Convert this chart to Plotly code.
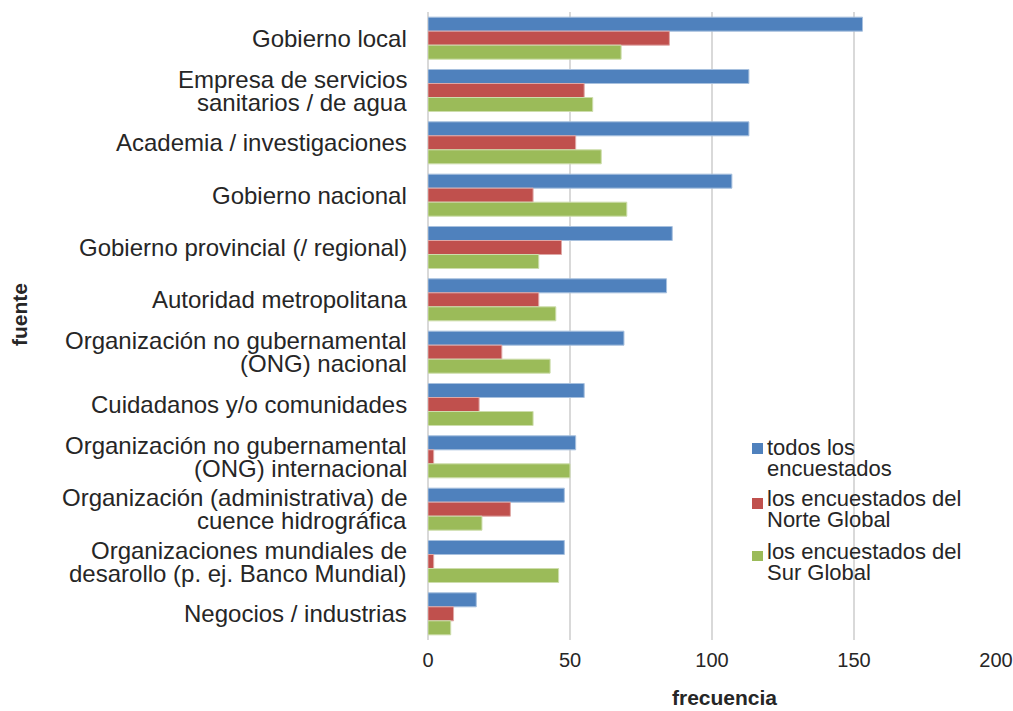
import plotly.graph_objects as go

categories = [
    "Gobierno local",
    "Empresa de servicios<br>sanitarios / de agua",
    "Academia / investigaciones",
    "Gobierno nacional",
    "Gobierno provincial (/ regional)",
    "Autoridad metropolitana",
    "Organización no gubernamental<br>(ONG) nacional",
    "Cuidadanos y/o comunidades",
    "Organización no gubernamental<br>(ONG) internacional",
    "Organización (administrativa) de<br>cuence hidrográfica",
    "Organizaciones mundiales de<br>desarollo (p. ej. Banco Mundial)",
    "Negocios / industrias",
]
todos = [153, 113, 113, 107, 86, 84, 69, 55, 52, 48, 48, 17]
norte = [85, 55, 52, 37, 47, 39, 26, 18, 2, 29, 2, 9]
sur = [68, 58, 61, 70, 39, 45, 43, 37, 50, 19, 46, 8]
x_ticks = [0, 50, 100, 150, 200]

series_names = ["todos los<br>encuestados", "los encuestados del<br>Norte Global", "los encuestados del<br>Sur Global"]
colors = ["#4F81BD", "#C0504D", "#9BBB59"]
edge = ["#A7C0DE", "#DFA8A6", "#CDDDAC"]

W, H = 1013, 711
L, R, T, B = 428, 17, 12, 71
PW, PH = W - L - R, H - T - B
TXT = "#262626"
FONT = "Liberation Sans, Arial, Helvetica, sans-serif"


def px_x(px):
    return (px - L) / PW


def px_y(py):
    return (H - B - py) / PH


fig = go.Figure()
for name, vals, c, e in zip(series_names, [todos, norte, sur], colors, edge):
    fig.add_trace(go.Bar(
        y=categories, x=vals, orientation="h", name=name,
        marker=dict(color=c, line=dict(color=e, width=1)),
        showlegend=False,
    ))

annotations = []
# category labels (one annotation per text line)
for cat in categories:
    lines = cat.split("<br>")
    n = len(lines)
    for i, ln in enumerate(lines):
        annotations.append(dict(
            text=ln, xref="paper", yref="y", x=0, y=cat,
            xanchor="right", yanchor="middle", xshift=-19,
            yshift=(n - 1) / 2 * 23 - i * 23, showarrow=False,
            font=dict(size=24, color=TXT, family=FONT),
        ))

# custom legend
leg_sq = [(443, 454), (498, 509), (551, 561)]
leg_line1 = [447.5, 498.5, 551]
shapes = []
for name, c, (y0, y1), yl in zip(series_names, colors, leg_sq, leg_line1):
    shapes.append(dict(type="rect", xref="paper", yref="paper",
                       x0=px_x(752), x1=px_x(763), y0=px_y(y1), y1=px_y(y0),
                       fillcolor=c, line=dict(width=0)))
    for i, ln in enumerate(name.split("<br>")):
        annotations.append(dict(
            text=ln, xref="paper", yref="paper", x=px_x(765), y=px_y(yl + 21 * i),
            xanchor="left", yanchor="middle", showarrow=False,
            font=dict(size=22, color=TXT, family=FONT),
        ))

annotations.append(dict(text="<b>frecuencia</b>", xref="paper", yref="paper",
                        x=px_x(724), y=px_y(711), xanchor="center", yanchor="bottom",
                        showarrow=False, font=dict(size=21, color=TXT, family=FONT)))
annotations.append(dict(text="<b>fuente</b>", xref="paper", yref="paper",
                        x=px_x(20), y=px_y(315), xanchor="center", yanchor="middle",
                        showarrow=False, textangle=-90,
                        font=dict(size=21, color=TXT, family=FONT)))

fig.update_layout(
    width=W, height=H,
    margin=dict(l=L, r=R, t=T, b=B, autoexpand=False),
    paper_bgcolor="white", plot_bgcolor="white",
    barmode="group", bargap=0.197, bargroupgap=0,
    font=dict(family=FONT, size=20, color=TXT),
    showlegend=False,
    xaxis=dict(
        range=[0, 200], tickvals=x_ticks, automargin=False,
        showgrid=True, gridcolor="#D9D9D9", gridwidth=2,
        zeroline=True, zerolinecolor="#D9D9D9", zerolinewidth=2,
        showline=False, ticks="", tickfont=dict(size=20, color=TXT),
        ticklabelstandoff=6,
    ),
    yaxis=dict(
        autorange="reversed", showgrid=False, showline=False, automargin=False,
        ticks="", showticklabels=False,
    ),
    annotations=annotations,
    shapes=shapes,
)

fig.write_html(
    "out.html",
    config={"displayModeBar": False},
    post_script="document.body.style.margin='0px';document.body.style.overflow='hidden';",
)
